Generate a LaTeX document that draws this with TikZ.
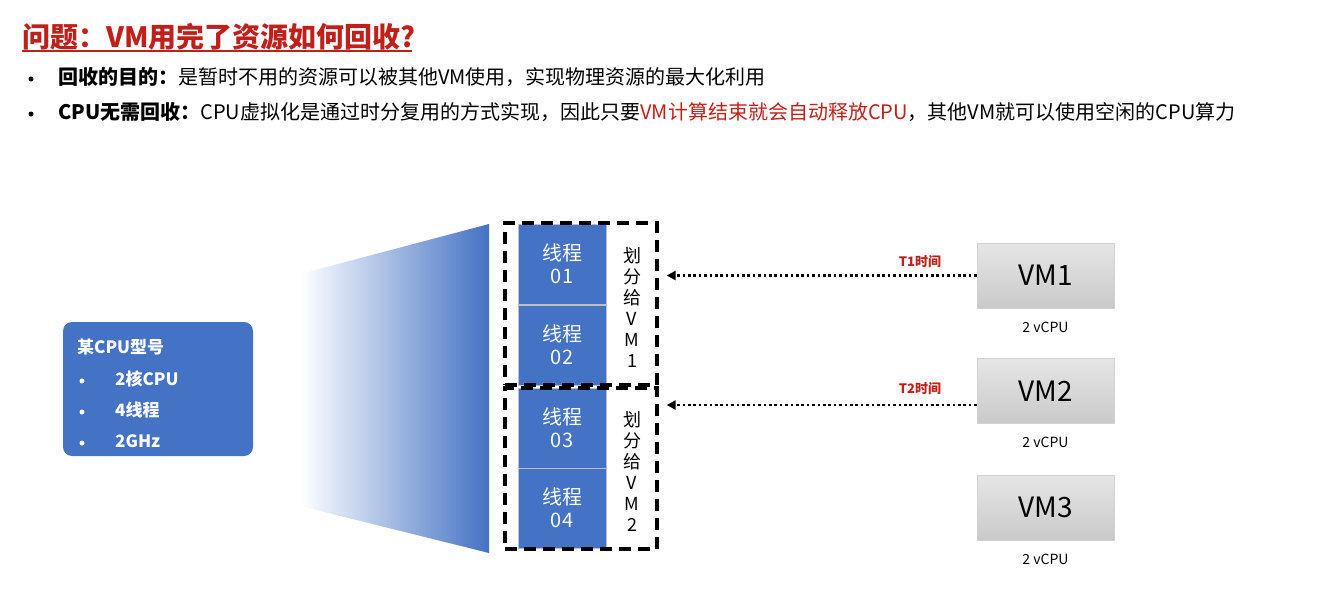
\documentclass[tikz,border=0pt]{standalone}
\usepackage{fontspec}
\setmainfont{Noto Sans CJK SC}
\usetikzlibrary{arrows.meta}
\definecolor{tblue}{HTML}{4472C4}
\definecolor{tred}{HTML}{C0201A}

\begin{document}
\begin{tikzpicture}[
    x=1pt, y=-1pt,
    thread/.style={
        draw=gray!50, fill=tblue, text=white, inner sep=0pt,
        minimum width=88pt, minimum height=80pt,
        align=center, font=\fontsize{20}{23}\selectfont
    },
    group/.style={
        draw, line width=3.3pt, dash pattern=on 12pt off 7pt,
        inner sep=0pt, minimum width=152pt
    },
    cpubox/.style={
        fill=tblue, rounded corners=9pt,
        minimum width=190pt, minimum height=134pt
    },
    cputext/.style={
        anchor=west, inner sep=0pt, text=white,
        font=\bfseries\fontsize{17}{19}\selectfont
    },
    bul/.style={circle, inner sep=0pt, minimum size=5pt},
    vm/.style={
        draw=gray!35, top color=gray!20, bottom color=gray!42,
        minimum width=137pt, minimum height=65pt,
        font=\fontsize{28}{30}\selectfont
    },
    vcpu/.style={font=\fontsize{14}{16}\selectfont},
    vlabel/.style={align=center, font=\fontsize{18}{21}\selectfont},
    tlabel/.style={text=tred, font=\bfseries\fontsize{13}{15}\selectfont},
    line/.style={anchor=west, inner sep=0pt, font=\fontsize{20}{24}\selectfont},
    dotarr/.style={
        line width=2.8pt, dash pattern=on 2.6pt off 2.8pt, shorten >=8pt,
        -{Triangle[length=9pt,width=9pt]}
    }
]
\useasboundingbox (0,0) rectangle (1331,611);

% 标题
\node[anchor=west, inner sep=0pt, text=tred, font=\bfseries\fontsize{28}{32}\selectfont]
    (title) at (22,37) {问题：VM用完了资源如何回收?};
\draw[tred, line width=2pt] (22,51) -- (412,51);

% 要点
\node[bul, fill=black] (dot1) at (31,79) {};
\node[line] (txt1) at (58,77)
    {{\bfseries 回收的目的：}是暂时不用的资源可以被其他VM使用，实现物理资源的最大化利用};
\node[bul, fill=black] (dot2) at (31,114) {};
\node[line] (txt2) at (58,112)
    {{\bfseries CPU无需回收：}CPU虚拟化是通过时分复用的方式实现，因此只要\textcolor{tred}{VM计算结束就会自动释放CPU}，其他VM就可以使用空闲的CPU算力};

% CPU型号
\node[cpubox] (cpu) at (158,389) {};
\node[cputext] (cpuname) at (77,347) {某CPU型号};
\node[bul, fill=white] (d1) at (82,381) {};
\node[cputext] (c1) at (115,379) {2核CPU};
\node[bul, fill=white] (d2) at (82,412) {};
\node[cputext] (c2) at (115,410) {4线程};
\node[bul, fill=white] (d3) at (82,443) {};
\node[cputext] (c3) at (115,441) {2GHz};

% 渐变
\shade[left color=white, right color=tblue]
    (300,274) -- (489,224) -- (489,553) -- (300,506) -- cycle;

% 线程
\node[thread] (t1) at (562,264) {线程\\01};
\node[thread] (t2) at (562,345) {线程\\02};
\node[thread] (t3) at (562,428) {线程\\03};
\node[thread] (t4) at (562,508) {线程\\04};

% 分组
\node[group, minimum height=162pt] (g1) at (581,304) {};
\node[group, minimum height=161pt] (g2) at (581,468.5) {};
\node[vlabel] (v1) at (632,307) {划\\分\\给\\V\\M\\1};
\node[vlabel] (v2) at (632,471) {划\\分\\给\\V\\M\\2};

% 虚拟机
\node[vm] (vm1) at (1045.5,275.5) {VM1};
\node[vm] (vm2) at (1045.5,391) {VM2};
\node[vm] (vm3) at (1045.5,507.5) {VM3};
\node[vcpu] (p1) at (1045.5,327) {2 vCPU};
\node[vcpu] (p2) at (1045.5,442) {2 vCPU};
\node[vcpu] (p3) at (1045.5,559) {2 vCPU};

% 时间片箭头
\coordinate (s2) at ([yshift=-14pt]vm2.west);
\draw[dotarr] (vm1.west) -- (vm1.west -| g1.east);
\draw[dotarr] (s2) -- (s2 -| g2.east);
\node[tlabel] (tl1) at (920,262) {T1时间};
\node[tlabel] (tl2) at (920,389) {T2时间};

\end{tikzpicture}
\end{document}
